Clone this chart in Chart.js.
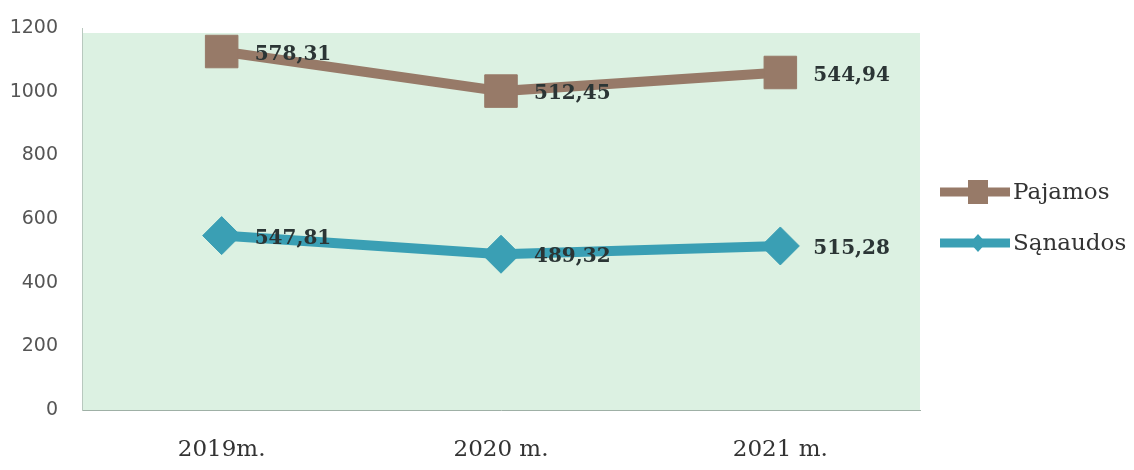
<!DOCTYPE html>
<html lang="lt">
<head>
    <meta charset="UTF-8">
    <title>Pajamos ir sąnaudos</title>
    <script src="https://cdn.jsdelivr.net/npm/chart.js"></script>
    <style>
        body {
            margin: 0;
            background: #ffffff;
        }
        #wrap {
            width: 1134px;
            height: 470px;
        }
    </style>
</head>
<body>
    <div id="wrap"><canvas id="lineChart"></canvas></div>
    <script>
        const years = ['2019m.', '2020 m.', '2021 m.'];
        const pajamos = [578.31, 512.45, 544.94];
        const sanaudos = [547.81, 489.32, 515.28];
        const yTicks = [0, 200, 400, 600, 800, 1000, 1200];

        // light green plot background
        const plotBg = {
            id: 'plotBg',
            beforeDraw(chart) {
                const { ctx, chartArea: a } = chart;
                ctx.save();
                ctx.fillStyle = '#dcf1e2';
                ctx.fillRect(a.left, a.top + 5, a.right - a.left, a.bottom - a.top - 5);
                ctx.restore();
            }
        };

        // value labels next to each point
        const valueLabels = {
            id: 'valueLabels',
            afterDatasetsDraw(chart) {
                const ctx = chart.ctx;
                ctx.save();
                ctx.font = 'bold 20px "DejaVu Serif"';
                ctx.fillStyle = '#2b3535';
                ctx.textAlign = 'left';
                ctx.textBaseline = 'middle';
                chart.data.datasets.forEach((ds, i) => {
                    const meta = chart.getDatasetMeta(i);
                    meta.data.forEach((pt, j) => {
                        const txt = ds.data[j].toFixed(2).replace('.', ',');
                        ctx.fillText(txt, pt.x + 33, pt.y + 3);
                    });
                });
                ctx.restore();
            }
        };

        // legend: line with marker, like the office chart
        const sideLegend = {
            id: 'sideLegend',
            afterDraw(chart) {
                const ctx = chart.ctx;
                const x0 = chart.chartArea.right + 20;
                const items = chart.data.datasets.slice().reverse();
                ctx.save();
                items.forEach((ds, k) => {
                    const y = 192 + k * 51;
                    ctx.strokeStyle = ds.borderColor;
                    ctx.lineWidth = 9;
                    ctx.beginPath();
                    ctx.moveTo(x0, y);
                    ctx.lineTo(x0 + 70, y);
                    ctx.stroke();
                    ctx.fillStyle = ds.borderColor;
                    const cx = x0 + 38;
                    if (ds.pointStyle === 'rect') {
                        ctx.fillRect(cx - 10, y - 12, 20, 24);
                    } else {
                        ctx.beginPath();
                        ctx.moveTo(cx - 8, y);
                        ctx.lineTo(cx, y - 9);
                        ctx.lineTo(cx + 8, y);
                        ctx.lineTo(cx, y + 9);
                        ctx.closePath();
                        ctx.fill();
                    }
                    ctx.fillStyle = '#333333';
                    ctx.font = '23px "DejaVu Serif"';
                    ctx.textAlign = 'left';
                    ctx.textBaseline = 'middle';
                    ctx.fillText(ds.label, x0 + 73, y + 1);
                });
                ctx.restore();
            }
        };

        const ctx = document.getElementById('lineChart').getContext('2d');
        new Chart(ctx, {
            type: 'line',
            data: {
                labels: years,
                datasets: [{
                    label: 'Sąnaudos',
                    data: sanaudos,
                    borderColor: '#3a9fb4',
                    backgroundColor: '#3a9fb4',
                    borderWidth: 10,
                    pointStyle: 'rectRot',
                    pointRadius: 19,
                    pointHoverRadius: 19,
                    pointBorderWidth: 1,
                    fill: false,
                    tension: 0
                }, {
                    label: 'Pajamos',
                    data: pajamos,
                    borderColor: '#977a68',
                    backgroundColor: '#977a68',
                    borderWidth: 10,
                    pointStyle: 'rect',
                    pointRadius: 23,
                    pointHoverRadius: 23,
                    pointBorderWidth: 1,
                    fill: false,
                    tension: 0
                }]
            },
            options: {
                responsive: true,
                maintainAspectRatio: false,
                animation: false,
                layout: {
                    padding: { top: 28, left: 4, right: 214, bottom: 8 }
                },
                scales: {
                    x: {
                        offset: true,
                        grid: { display: false },
                        border: { color: '#9fb0a6', width: 1 },
                        afterFit(axis) { axis.height = 52; },
                        ticks: {
                            color: '#333333',
                            padding: 18,
                            font: { family: '"DejaVu Serif"', size: 23 }
                        }
                    },
                    y: {
                        stacked: true,
                        min: 0,
                        max: 1200,
                        afterBuildTicks(axis) {
                            axis.ticks = yTicks.map(v => ({ value: v }));
                        },
                        afterFit(axis) { axis.width = 78; },
                        grid: { display: false },
                        border: { color: '#b8c8be', width: 1 },
                        ticks: {
                            color: '#555555',
                            padding: 16,
                            font: { family: '"DejaVu Sans"', size: 19 },
                            callback: v => String(v)
                        }
                    }
                },
                plugins: {
                    legend: { display: false },
                    tooltip: { enabled: false }
                }
            },
            plugins: [plotBg, valueLabels, sideLegend]
        });
    </script>
</body>
</html>
